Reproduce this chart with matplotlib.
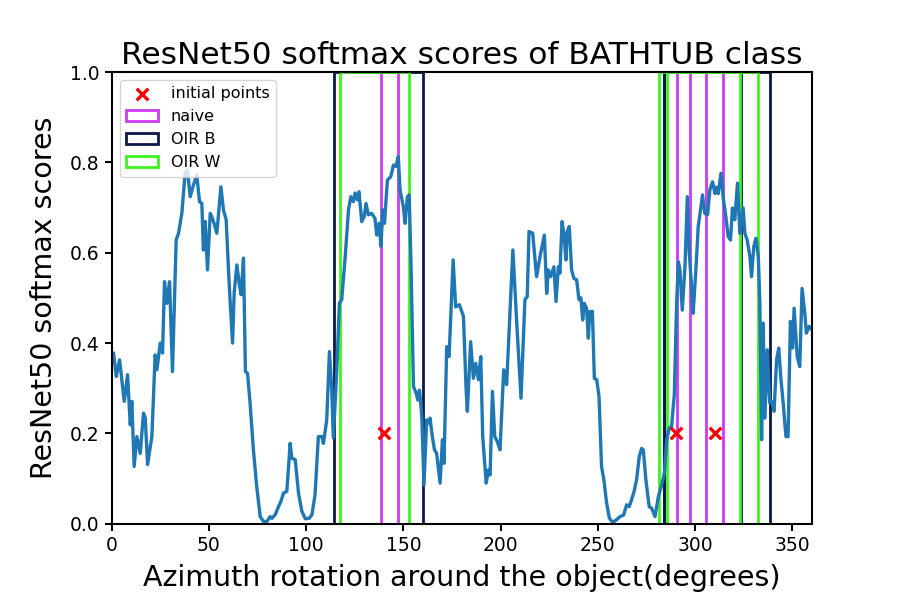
import matplotlib
matplotlib.use("Agg")
import matplotlib.pyplot as plt
from matplotlib.patches import Rectangle

# softmax curve (azimuth in degrees, score)
azimuth = [0, 1.0, 2.4, 4.1, 6.5, 8.2, 9.6, 10.4, 11.6, 13.0, 14.7, 16.4, 17.3, 18.5, 20.7,
           22.4, 23.3, 25.0, 26.2, 27.2, 28.4, 29.8, 31.3, 33.2, 34.4, 36.1, 37.8, 39.0, 40.4,
           42.1, 43.8, 45.2, 46.4, 47.2, 48.1, 49.3, 50.7, 51.5, 52.7, 54.1, 55.0, 56.2, 57.5,
           58.9, 60.1, 61.0, 62.2, 63.0, 64.4, 65.6, 66.6, 67.8, 68.8, 69.9, 71.2, 72.9, 74.6,
           76.4, 78.1, 79.8, 81.5, 82.4, 84.1, 85.8, 87.0, 88.4, 90.1, 91.8, 92.7, 94.4, 96.1,
           97.8, 99.6, 101.5, 103.0, 104.6, 106.3, 108.1, 108.9, 110.6, 112.0, 113.2, 114.0,
           115.8, 117.1, 118.3, 120.1, 121.8, 123.0, 124.3, 125.2, 126.4, 127.2, 128.6, 129.9,
           130.8, 132.0, 133.7, 135.4, 136.3, 137.5, 138.5, 139.4, 140.3, 141.8, 143.5, 144.9,
           146.2, 147.4, 148.3, 150.0, 150.9, 152.1, 153.0, 154.0, 155.2, 156.6, 157.4, 158.3,
           159.5, 160.6, 162.0, 162.9, 163.7, 164.9, 166.0, 167.1, 168.9, 170.1, 170.9, 172.3,
           173.5, 175.6, 176.9, 178.8, 180.9, 182.2, 182.9, 184.6, 186.0, 187.2, 188.6, 189.8,
           190.8, 192.6, 193.7, 194.6, 195.8, 197.0, 198.3, 199.7, 201.6, 203.1, 206.3, 208.3,
           210.5, 212.5, 213.7, 214.6, 216.5, 218.5, 220.6, 222.5, 223.7, 224.5, 225.7, 227.4,
           228.5, 229.7, 230.5, 231.6, 232.6, 233.6, 234.3, 235.3, 236.5, 237.7, 239.1, 240.3,
           241.3, 242.2, 243.0, 244.2, 245.1, 245.9, 247.2, 248.2, 249.4, 250.6, 251.9, 253.1,
           254.5, 255.9, 257.6, 259.6, 261.4, 263.2, 264.8, 266.1, 267.3, 268.6, 269.9, 271.3,
           272.5, 273.4, 274.7, 276.4, 277.6, 279.4, 281.1, 282.8, 284.2, 285.4, 286.7, 287.9,
           289.3, 290.5, 291.4, 292.2, 293.4, 294.8, 296.0, 297.0, 298.2, 299.0, 300.4, 301.6,
           302.8, 303.8, 305.0, 306.4, 307.6, 309.0, 310.2, 311.0, 311.9, 313.3, 314.5, 315.8,
           317.0, 318.2, 319.2, 320.4, 321.8, 323.0, 324.7, 325.6, 326.8, 328.2, 329.0, 330.2,
           331.3, 332.5, 333.3, 334.2, 335.0, 335.9, 337.1, 338.4, 339.6, 340.6, 341.9, 343.0,
           344.1, 345.3, 346.7, 347.8, 349.0, 350.1, 350.9, 352.5, 353.8, 355.0, 356.4, 357.2,
           358.6, 360]
scores = [0.375, 0.378, 0.326, 0.363, 0.271, 0.330, 0.219, 0.271, 0.127, 0.193, 0.156, 0.245,
          0.234, 0.131, 0.193, 0.374, 0.341, 0.400, 0.378, 0.536, 0.488, 0.536, 0.337, 0.628,
          0.643, 0.687, 0.776, 0.783, 0.724, 0.750, 0.772, 0.713, 0.709, 0.606, 0.669, 0.562,
          0.687, 0.680, 0.665, 0.643, 0.687, 0.746, 0.695, 0.673, 0.562, 0.488, 0.400, 0.510,
          0.573, 0.532, 0.507, 0.588, 0.337, 0.333, 0.267, 0.164, 0.083, 0.016, 0.005, 0.005,
          0.016, 0.012, 0.020, 0.038, 0.049, 0.068, 0.072, 0.178, 0.145, 0.142, 0.068, 0.028,
          0.011, 0.012, 0.020, 0.064, 0.193, 0.193, 0.178, 0.230, 0.381, 0.296, 0.190, 0.341,
          0.488, 0.496, 0.591, 0.695, 0.724, 0.713, 0.732, 0.717, 0.735, 0.669, 0.680, 0.709,
          0.684, 0.687, 0.676, 0.639, 0.665, 0.614, 0.695, 0.665, 0.761, 0.768, 0.794, 0.791,
          0.813, 0.739, 0.702, 0.665, 0.724, 0.728, 0.562, 0.304, 0.289, 0.274, 0.296, 0.237,
          0.086, 0.230, 0.223, 0.234, 0.193, 0.164, 0.156, 0.090, 0.186, 0.134, 0.392, 0.370,
          0.584, 0.480, 0.485, 0.459, 0.304, 0.249, 0.403, 0.322, 0.355, 0.319, 0.370, 0.193,
          0.090, 0.119, 0.108, 0.293, 0.193, 0.182, 0.164, 0.341, 0.308, 0.606, 0.444, 0.278,
          0.496, 0.503, 0.647, 0.643, 0.547, 0.599, 0.639, 0.510, 0.562, 0.547, 0.569, 0.492,
          0.569, 0.555, 0.669, 0.639, 0.584, 0.647, 0.658, 0.562, 0.543, 0.540, 0.496, 0.500,
          0.451, 0.488, 0.477, 0.411, 0.470, 0.470, 0.322, 0.319, 0.282, 0.127, 0.097, 0.046,
          0.013, 0.003, 0.009, 0.016, 0.019, 0.042, 0.038, 0.053, 0.071, 0.097, 0.149, 0.167,
          0.163, 0.097, 0.038, 0.035, 0.016, 0.060, 0.086, 0.112, 0.186, 0.212, 0.215, 0.285,
          0.488, 0.580, 0.562, 0.473, 0.569, 0.724, 0.599, 0.525, 0.466, 0.562, 0.658, 0.695,
          0.728, 0.687, 0.684, 0.740, 0.757, 0.731, 0.745, 0.731, 0.776, 0.720, 0.680, 0.636,
          0.628, 0.699, 0.673, 0.754, 0.643, 0.699, 0.643, 0.628, 0.591, 0.547, 0.614, 0.632,
          0.591, 0.488, 0.186, 0.444, 0.234, 0.385, 0.267, 0.270, 0.249, 0.363, 0.389, 0.322,
          0.267, 0.193, 0.193, 0.448, 0.389, 0.477, 0.370, 0.348, 0.521, 0.466, 0.422, 0.437,
          0.43]

initial_x = [140, 290, 310]
initial_y = [0.2, 0.2, 0.2]

# windows as (start, end) in degrees
naive_windows = [(138.4, 147.4), (290.8, 305.5), (297.3, 314.1)]
oir_b_windows = [(114.4, 160.3), (283.8, 323.5), (283.8, 338.4)]
oir_w_windows = [(117.6, 153.1), (281.4, 323.0), (285.3, 332.4)]

naive_color = "#cc3cf5"
oir_b_color = "#0c1848"
oir_w_color = "#3cf51e"

fig = plt.figure(figsize=(9, 6), dpi=100)
ax = fig.add_axes([0.124, 0.127, 0.778, 0.753])

ax.plot(azimuth, scores, color="#1f77b4", linewidth=2.4)

def add_windows(windows, color, label):
    handle = None
    for i, (a, b) in enumerate(windows):
        r = Rectangle((a, 0), b - a, 1, fill=False, edgecolor=color, linewidth=2,
                      label=label if i == 0 else None)
        ax.add_patch(r)
        if i == 0:
            handle = r
    return handle

h_naive = add_windows(naive_windows, naive_color, "naive")
h_b = add_windows(oir_b_windows, oir_b_color, "OIR B")
h_w = add_windows(oir_w_windows, oir_w_color, "OIR W")
h_init = ax.scatter(initial_x, initial_y, marker="x", color="red", s=70, linewidths=2.4,
                    label="initial points", zorder=3)

ax.set_xlim(0, 360)
ax.set_ylim(0, 1.0)
ax.set_title("ResNet50 softmax scores of BATHTUB class", fontsize=22.5)
ax.set_xlabel("Azimuth rotation around the object(degrees)", fontsize=20.5, labelpad=7)
ax.set_ylabel("ResNet50 softmax scores", fontsize=20.5, labelpad=9)
ax.tick_params(labelsize=13.5, width=1.5, length=5)
for s in ax.spines.values():
    s.set_linewidth(1.5)
ax.legend(handles=[h_init, h_naive, h_b, h_w], loc="upper left", fontsize=11.5)

fig.savefig("out.png", dpi=100)
